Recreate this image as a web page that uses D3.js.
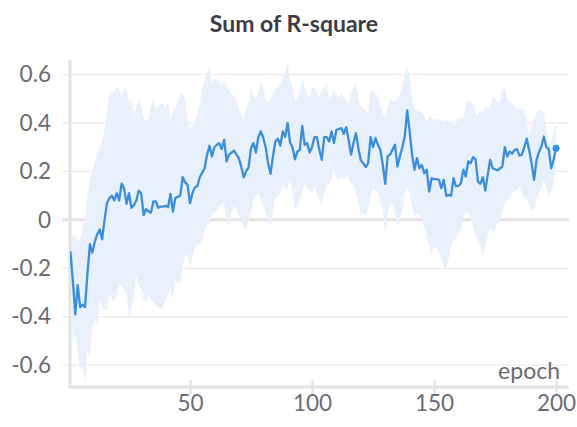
<!DOCTYPE html>
<html><head><meta charset="utf-8">
<script src="https://cdn.jsdelivr.net/npm/d3@7"></script>
<style>html,body{margin:0;padding:0;background:#fff;}svg{display:block;}</style>
</head><body>
<svg id="c" width="577" height="427"></svg>
<script>
const title = "Sum of R-square";
const xLabel = "epoch";
const xTicks = [50, 100, 150, 200];
const yTicks = [-0.6, -0.4, -0.2, 0, 0.2, 0.4, 0.6];
const epochs = d3.range(1, 201);
const meanValues = [
-0.13,-0.25,-0.39,-0.27,-0.36,-0.35,-0.36,-0.22,-0.10,-0.135,
-0.09,-0.06,-0.04,-0.08,0.0,0.07,0.09,0.10,0.08,0.11,
0.08,0.15,0.13,0.066,0.11,0.05,0.06,0.08,0.12,0.11,
0.02,0.045,0.035,0.03,0.076,0.076,0.05,0.055,0.055,0.058,
0.052,0.107,0.034,0.09,0.095,0.10,0.176,0.155,0.145,0.069,
0.11,0.134,0.14,0.176,0.195,0.213,0.269,0.306,0.262,0.30,
0.31,0.316,0.292,0.331,0.241,0.27,0.278,0.286,0.27,0.255,
0.22,0.176,0.20,0.217,0.296,0.317,0.278,0.342,0.365,0.34,
0.30,0.234,0.19,0.262,0.324,0.335,0.306,0.365,0.342,0.40,
0.32,0.30,0.25,0.282,0.289,0.388,0.31,0.317,0.278,0.30,
0.342,0.342,0.289,0.248,0.342,0.342,0.324,0.365,0.317,0.372,
0.375,0.379,0.355,0.383,0.331,0.269,0.317,0.358,0.296,0.245,
0.234,0.218,0.234,0.342,0.30,0.338,0.31,0.289,0.227,0.149,
0.262,0.27,0.29,0.31,0.22,0.262,0.30,0.345,0.452,0.365,
0.269,0.207,0.255,0.213,0.227,0.193,0.207,0.117,0.172,0.168,
0.168,0.165,0.131,0.165,0.099,0.103,0.099,0.172,0.138,0.14,
0.151,0.207,0.179,0.241,0.234,0.259,0.25,0.158,0.149,0.176,
0.121,0.186,0.248,0.213,0.209,0.204,0.212,0.22,0.30,0.262,
0.282,0.273,0.289,0.292,0.265,0.269,0.30,0.335,0.286,0.231,
0.165,0.248,0.28,0.303,0.344,0.30,0.292,0.213,0.248,0.296
];
const upperValues = [
-0.10,-0.06,-0.07,-0.09,-0.08,-0.04,0.01,0.10,0.17,0.20,
0.24,0.28,0.30,0.32,0.38,0.45,0.53,0.52,0.53,0.55,
0.54,0.51,0.545,0.54,0.48,0.50,0.45,0.46,0.50,0.47,
0.42,0.405,0.42,0.47,0.496,0.46,0.47,0.482,0.475,0.46,
0.49,0.413,0.45,0.46,0.49,0.523,0.52,0.50,0.42,0.372,
0.39,0.40,0.44,0.482,0.54,0.58,0.61,0.627,0.565,0.578,
0.585,0.57,0.551,0.572,0.55,0.537,0.52,0.51,0.49,0.455,
0.43,0.413,0.455,0.49,0.537,0.51,0.50,0.523,0.565,0.55,
0.50,0.482,0.50,0.52,0.54,0.55,0.565,0.58,0.606,0.65,
0.578,0.551,0.49,0.50,0.537,0.578,0.55,0.52,0.50,0.544,
0.551,0.523,0.51,0.53,0.544,0.558,0.50,0.51,0.537,0.52,
0.50,0.523,0.51,0.496,0.475,0.52,0.55,0.565,0.496,0.47,
0.46,0.455,0.44,0.537,0.53,0.525,0.51,0.468,0.44,0.42,
0.468,0.496,0.49,0.49,0.49,0.523,0.55,0.60,0.634,0.606,
0.51,0.455,0.455,0.45,0.44,0.43,0.40,0.43,0.42,0.415,
0.42,0.413,0.41,0.406,0.413,0.41,0.406,0.386,0.40,0.42,
0.42,0.42,0.48,0.496,0.49,0.482,0.44,0.43,0.455,0.44,
0.475,0.46,0.46,0.51,0.50,0.49,0.482,0.537,0.544,0.50,
0.482,0.482,0.468,0.455,0.46,0.468,0.447,0.42,0.344,0.40,
0.42,0.44,0.455,0.455,0.44,0.372,0.31,0.32,0.36,0.406
];
const lowerValues = [
-0.20,-0.50,-0.47,-0.55,-0.62,-0.60,-0.68,-0.54,-0.57,-0.45,
-0.41,-0.44,-0.33,-0.36,-0.37,-0.37,-0.30,-0.33,-0.33,-0.31,
-0.27,-0.27,-0.29,-0.30,-0.41,-0.36,-0.31,-0.23,-0.27,-0.29,
-0.33,-0.34,-0.31,-0.33,-0.34,-0.35,-0.36,-0.37,-0.36,-0.33,
-0.30,-0.28,-0.33,-0.25,-0.26,-0.26,-0.19,-0.15,-0.14,-0.20,
-0.15,-0.12,-0.10,-0.10,-0.09,-0.04,-0.014,-0.014,0.02,0.03,
0.041,0.05,0.06,0.069,0.0,-0.03,0.03,0.06,0.04,0.02,
0.0,-0.03,-0.04,-0.01,0.027,0.08,0.096,0.11,0.083,0.06,
0.03,0.0,-0.03,0.03,0.09,0.10,0.11,0.151,0.13,0.13,
0.165,0.11,0.041,0.06,0.08,0.12,0.151,0.13,0.12,0.11,
0.14,0.11,0.08,0.062,0.11,0.14,0.15,0.17,0.207,0.17,
0.16,0.18,0.165,0.19,0.17,0.15,0.14,0.11,0.07,0.014,
0.03,0.02,0.05,0.097,0.13,0.12,0.11,0.07,0.04,-0.055,
0.014,0.07,0.06,0.04,-0.03,0.0,0.04,0.10,0.138,0.11,
0.055,0.014,0.03,0.02,0.0,-0.03,-0.07,-0.11,-0.15,-0.11,
-0.12,-0.13,-0.165,-0.19,-0.20,-0.16,-0.11,-0.083,-0.08,-0.06,
-0.04,0.014,0.03,0.027,0.01,-0.03,-0.06,-0.083,-0.10,-0.15,
-0.10,-0.07,-0.028,-0.055,-0.04,-0.014,0.0,0.034,0.07,0.08,
0.09,0.11,0.12,0.12,0.138,0.11,0.09,0.083,0.062,0.041,
0.04,0.083,0.11,0.138,0.165,0.138,0.097,0.12,0.15,0.207
];

const data = epochs.map((e, i) => ({e, v: meanValues[i], hi: upperValues[i], lo: lowerValues[i]}));
const FONT = "'Source Sans Pro', Lato, 'Noto Sans', sans-serif";
const svg = d3.select("#c");
const L = 70.4, R = 569, T = 60, B = 387;
const x = d3.scaleLinear().domain([1, 205.3]).range([L, R]);
const y = d3.scaleLinear().domain([-0.69, 0.66]).range([B, T]);

svg.append("defs").append("clipPath").attr("id", "clip")
  .append("rect").attr("x", 70).attr("y", T).attr("width", R - 70).attr("height", B - T);

// title
svg.append("text").attr("x", 294).attr("y", 32).attr("text-anchor", "middle")
  .attr("font-family", FONT).attr("font-weight", 700).attr("font-size", 23).attr("fill", "#3b3b45").text(title);

// grid
svg.append("g").selectAll("line").data(yTicks).join("line")
  .attr("x1", 62).attr("x2", R).attr("y1", d => y(d)).attr("y2", d => y(d))
  .attr("stroke", d => d === 0 ? "#e2e2e2" : "#ececec").attr("stroke-width", d => d === 0 ? 3 : 1.3);

// y axis labels
const yAxis = d3.axisLeft(y).tickValues(yTicks).tickSize(0).tickPadding(0)
  .tickFormat(d => d === 0 ? "0" : d.toFixed(1));
const gy = svg.append("g").attr("transform", "translate(51,0)").call(yAxis);
gy.select(".domain").remove();
gy.selectAll("text").attr("font-family", FONT).attr("font-size", 22.5).attr("fill", "#6b6b76");

// band
svg.append("path").datum(data).attr("clip-path", "url(#clip)")
  .attr("fill", "#e7f0fb")
  .attr("d", d3.area().x(d => x(d.e)).y0(d => y(d.lo)).y1(d => y(d.hi)));

// axes lines
svg.append("line").attr("x1", 70).attr("x2", 70).attr("y1", T).attr("y2", B + 1.5).attr("stroke", "#e3e3e3").attr("stroke-width", 3);
const xAxis = d3.axisBottom(x).tickValues(xTicks).tickSize(8).tickPadding(12).tickFormat(d3.format("d"));
const gx = svg.append("g").attr("transform", `translate(0,${B - 7})`).call(xAxis);
gx.select(".domain").remove();
gx.selectAll(".tick line").attr("stroke", "#e0e0e0").attr("stroke-width", 2).attr("y2", 15);
gx.selectAll("text").attr("font-family", FONT).attr("font-size", 22.5).attr("fill", "#6b6b76").attr("dy", "0.5em");
svg.append("line").attr("x1", 70).attr("x2", R).attr("y1", B).attr("y2", B).attr("stroke", "#e3e3e3").attr("stroke-width", 3);

// line
svg.append("path").datum(data).attr("clip-path", "url(#clip)")
  .attr("fill", "none").attr("stroke", "#3b8edb").attr("stroke-width", 2.3).attr("stroke-linejoin", "round")
  .attr("d", d3.line().x(d => x(d.e)).y(d => y(d.v)));
const last = data[data.length - 1];
svg.append("circle").attr("cx", x(last.e)).attr("cy", y(last.v)).attr("r", 3.5).attr("fill", "#3b8edb");

// x label
svg.append("text").attr("x", 560).attr("y", 379).attr("text-anchor", "end")
  .attr("font-family", FONT).attr("font-size", 23).attr("fill", "#6b6b76").text(xLabel);
</script>
</body></html>
